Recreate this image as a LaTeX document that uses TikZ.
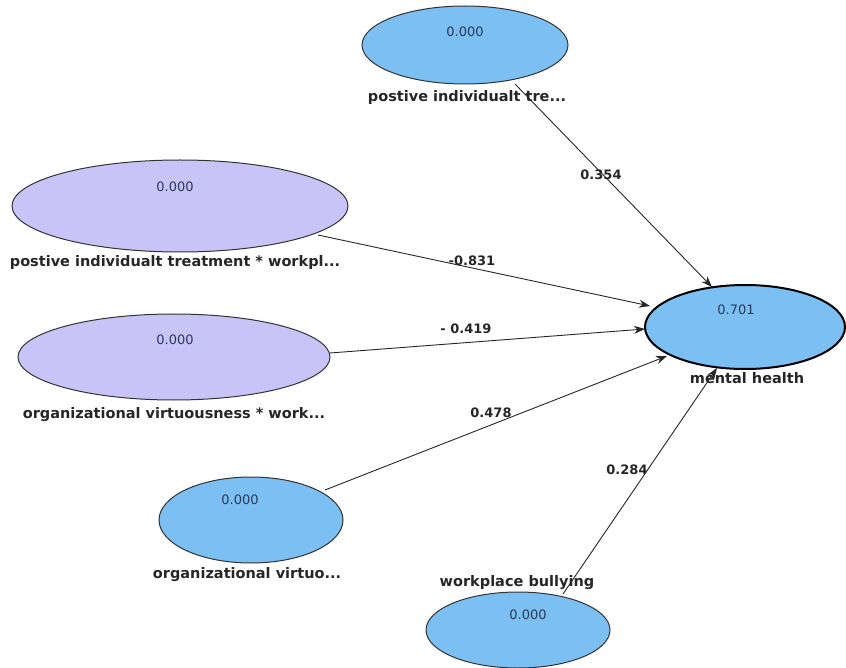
\documentclass[tikz,border=0pt]{standalone}
\usepackage{fontspec}
\setmainfont{DejaVu Sans}
\usetikzlibrary{arrows.meta}
\definecolor{lvblue}{HTML}{7CBFF2}
\definecolor{lvpurple}{HTML}{C8C4F8}
\definecolor{valtxt}{HTML}{2A3A5A}
\begin{document}
\begin{tikzpicture}[x=1pt,y=-1pt,
  val/.style={font=\fontsize{13}{15}\selectfont,text=valtxt},
  lab/.style={font=\fontsize{14.5}{16}\selectfont\bfseries,text=black!85},
  path/.style={draw=black!85,line width=0.9pt,-{Stealth[length=11pt,width=8pt]}},
  coef/.style={font=\fontsize{13}{15}\selectfont\bfseries,text=black!85}]
\useasboundingbox (0,0) rectangle (846,668);
% ellipses
\path[fill=lvblue,draw=black!80,line width=1pt] (465,45) ellipse [x radius=103,y radius=39];
\node[val] (v1) at (465,32) {0.000};
\node[lab] (l1) at (467,98) {postive individualt tre...};

\path[fill=lvpurple,draw=black!80,line width=1pt] (180,206) ellipse [x radius=168,y radius=46];
\node[val] (v2) at (175,187) {0.000};
\node[lab] (l2) at (175,263) {postive individualt treatment * workpl...};

\path[fill=lvpurple,draw=black!80,line width=1pt] (174,357) ellipse [x radius=156,y radius=43];
\node[val] (v3) at (175,340) {0.000};
\node[lab] (l3) at (174,415) {organizational virtuousness * work...};

\path[fill=lvblue,draw=black!80,line width=1pt] (251,520) ellipse [x radius=92,y radius=43];
\node[val] (v4) at (240,500) {0.000};
\node[lab] (l4) at (247,575) {organizational virtuo...};

\path[fill=lvblue,draw=black!80,line width=1pt] (518,630) ellipse [x radius=92,y radius=38];
\node[val] (v5) at (528,615) {0.000};
\node[lab] (l5) at (517,583) {workplace bullying};

\path[fill=lvblue,draw=black,line width=2pt] (745,327) ellipse [x radius=100,y radius=42];
\node[val] (v6) at (736,310) {0.701};
\node[lab] (l6) at (747,378) {mental health};

% connector endpoints
\coordinate (s1) at (515,84);  \coordinate (t1) at (712,287);
\coordinate (s2) at (318,235); \coordinate (t2) at (650,306);
\coordinate (s3) at (330,353); \coordinate (t3) at (645,329);
\coordinate (s4) at (325,490); \coordinate (t4) at (667,356);
\coordinate (s5) at (563,594); \coordinate (t5) at (717,368);

\draw[path] (s1) -- (t1);
\draw[path] (s2) -- (t2);
\draw[path] (s3) -- (t3);
\draw[path] (s4) -- (t4);
\draw[path] (s5) -- (t5);

\node[coef] (c1) at (601,175) {0.354};
\node[coef] (c2) at (472,261) {-0.831};
\node[coef] (c3) at (466,329) {- 0.419};
\node[coef] (c4) at (491,413) {0.478};
\node[coef] (c5) at (627,470) {0.284};
\end{tikzpicture}
\end{document}
